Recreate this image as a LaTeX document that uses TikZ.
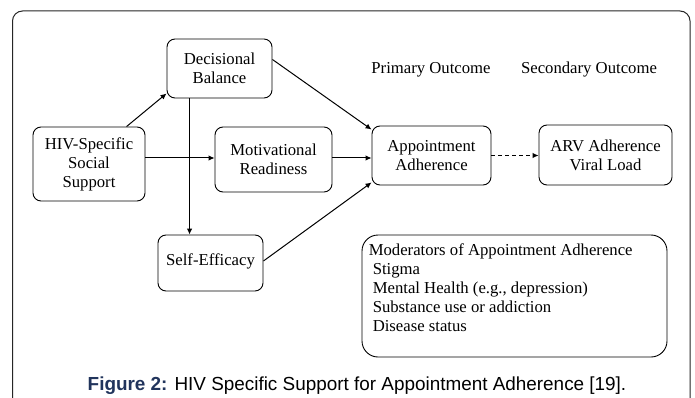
\documentclass[tikz,border=0pt]{standalone}
\usepackage{fontspec}
\setmainfont{Liberation Serif}
\newfontfamily\capfont{Liberation Sans}
\usetikzlibrary{arrows.meta,calc}
\definecolor{capblue}{RGB}{33,52,92}
\tikzset{
  box/.style={draw, line width=0.9pt, rounded corners=8pt, align=center, inner sep=0pt,
    font=\fontsize{16.7}{19}\selectfont},
  plain/.style={inner sep=0pt, font=\fontsize{16.7}{19}\selectfont},
  arr/.style={line width=1pt, -{Latex[length=6pt,width=5.5pt]}},
}
\begin{document}
\begin{tikzpicture}[x=1pt,y=-1pt]
\useasboundingbox (0,0) rectangle (695,398);
\fill[white] (0,0) rectangle (695,398);
% frame
\draw[line width=1pt, black!85, rounded corners=10pt] (12.5,400) -- (12.5,11) -- (690,11) -- (690,400);

\node[box, minimum width=112pt, minimum height=74pt] (hiv) at (89,164) {HIV-Specific\\Social\\Support};
\node[box, minimum width=105pt, minimum height=59pt] (dec) at (219.5,68.5) {Decisional\\Balance};
\node[box, minimum width=117pt, minimum height=65pt] (mot) at (273.5,159.5) {Motivational\\Readiness};
\node[box, minimum width=105pt, minimum height=56pt] (self) at (210.5,263) {\raisebox{6pt}{Self-Efficacy}};
\node[box, minimum width=119pt, minimum height=59pt] (app) at (431.5,155.5) {Appointment\\Adherence};
\node[box, minimum width=133pt, minimum height=60pt] (arv) at (605.5,155) {ARV Adherence\\Viral Load};
\node[plain, anchor=base] (prim) at (431,74) {Primary Outcome};
\node[plain, anchor=base] (sec) at (589,74) {Secondary Outcome};

\node[draw, line width=0.9pt, rounded corners=16pt, minimum width=305pt, minimum height=122pt, inner sep=0pt] (mod) at (514.5,296) {};
\node[plain, anchor=north west, align=left] (modtext) at ($(mod.north west)+(7,9)$)
  {Moderators of Appointment Adherence\\
   \hspace{4pt}Stigma\\
   \hspace{4pt}Mental Health (e.g., depression)\\
   \hspace{4pt}Substance use or addiction\\
   \hspace{4pt}Disease status};

% connectors
\coordinate (hivtop) at ($(hiv.north west)+(94,0)$);
\draw[arr] (hivtop) -- ($(dec.south west)+(0,-5)$);
\coordinate (hivr) at ($(hiv.east)+(0,-6)$);
\draw[arr] (hivr) -- (hivr -| mot.west);
\coordinate (decb) at ($(dec.south west)+(23,0)$);
\draw[arr] (decb) -- (decb |- self.north);
\draw[arr] ($(dec.east)+(0,-9)$) -- ($(app.north west)+(0,4)$);
\coordinate (motr) at ($(mot.east)+(0,-1.5)$);
\draw[arr] (motr) -- (motr -| app.west);
\draw[arr] ($(self.east)+(0,-2)$) -- ($(app.south west)+(0,-3)$);
\draw[arr, dash pattern=on 4pt off 3pt] (app.east) -- (app.east -| arv.west);

\node[inner sep=0pt, anchor=base, font=\capfont\fontsize{18.9}{22}\selectfont] (cap) at (357,390)
  {\textcolor{capblue}{\bfseries Figure 2:} HIV Specific Support for Appointment Adherence [19].};
\end{tikzpicture}
\end{document}
